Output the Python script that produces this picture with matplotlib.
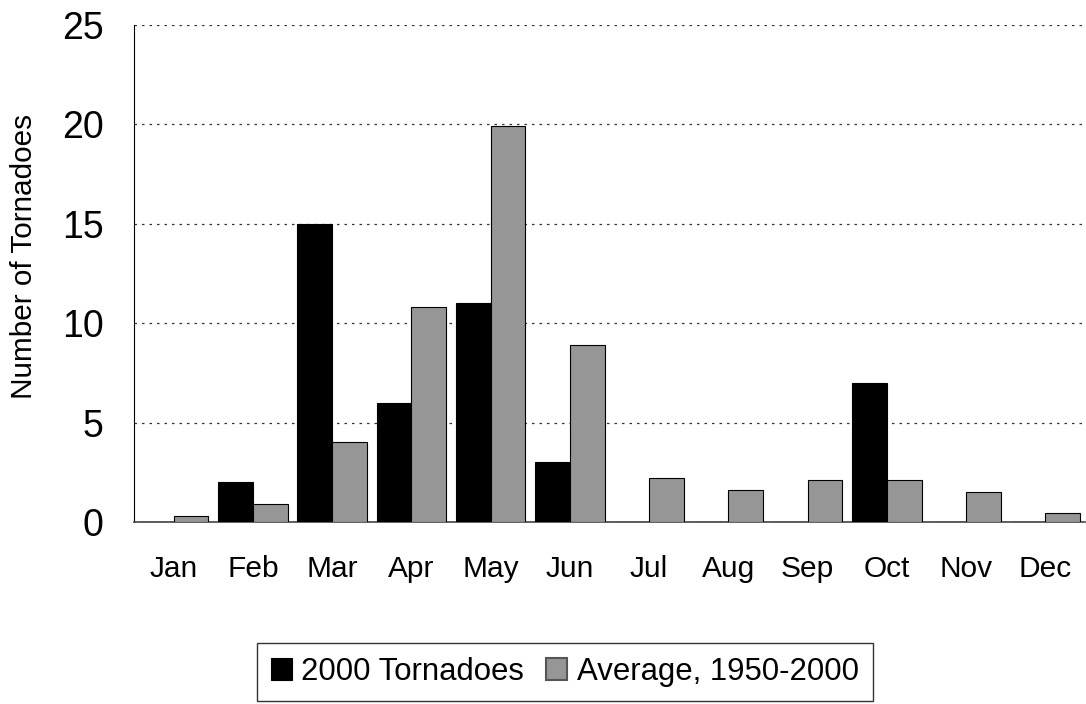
import numpy as np
import matplotlib
matplotlib.use('Agg')
import matplotlib.pyplot as plt

plt.rcParams['font.family'] = ['Liberation Sans', 'DejaVu Sans']

MONTHS = ['Jan', 'Feb', 'Mar', 'Apr', 'May', 'Jun',
          'Jul', 'Aug', 'Sep', 'Oct', 'Nov', 'Dec']
TORNADOES_2000 = [0, 2, 15, 6, 11, 3, 0, 0, 0, 7, 0, 0]
AVERAGE_1950_2000 = [0.3, 0.9, 4.0, 10.8, 19.9, 8.9, 2.2, 1.6, 2.1, 2.1, 1.5, 0.45]
Y_TICKS = [0, 5, 10, 15, 20, 25]

fig = plt.figure(figsize=(10.86, 7.04), dpi=100)
ax = fig.add_axes([134 / 1086, 1 - 522 / 704, (1085 - 134) / 1086, (522 - 25) / 704])

x = np.arange(len(MONTHS))
w = 0.44
ax.bar(x - w / 2, TORNADOES_2000, w, color='black', edgecolor='black',
       linewidth=0.8, label='2000 Tornadoes', zorder=3)
ax.bar(x + w / 2, AVERAGE_1950_2000, w, color='#969696', edgecolor='black',
       linewidth=0.8, label='Average, 1950-2000', zorder=3)

ax.set_xlim(-0.5, len(MONTHS) - 0.5)
ax.set_ylim(0, 25)
ax.set_yticks(Y_TICKS)
ax.set_xticks(x)
ax.set_xticklabels(MONTHS)
ax.tick_params(axis='both', length=0)
ax.tick_params(axis='y', pad=22, labelsize=27)
ax.tick_params(axis='x', pad=24, labelsize=21.5)
ax.yaxis.grid(True, linestyle=(0, (2, 4)), color='#333333', linewidth=0.9, zorder=0)
ax.set_axisbelow(True)
for s in ['top', 'right']:
    ax.spines[s].set_visible(False)
ax.spines['left'].set_color('black')
ax.spines['bottom'].set_color('#444444')
ax.spines['bottom'].set_linewidth(1.2)
ax.set_ylabel('Number of Tornadoes', fontsize=21.4)
ax.yaxis.set_label_coords(-0.101, 0.535)

handles, labels = ax.get_legend_handles_labels()
leg = fig.legend(handles, labels, loc='upper left',
                 bbox_to_anchor=(257 / 1086, 1 - 643 / 704),
                 ncol=2, fontsize=22.4, frameon=True, fancybox=False,
                 handlelength=0.68, handleheight=0.68, handletextpad=0.3,
                 columnspacing=0.7, borderpad=0.45, borderaxespad=0)
leg.get_frame().set_edgecolor('black')
leg.get_frame().set_linewidth(1.0)
leg.legend_handles[1].set_edgecolor('#555555')
leg.legend_handles[1].set_linewidth(1.5)

fig.savefig('out.png', dpi=100)
